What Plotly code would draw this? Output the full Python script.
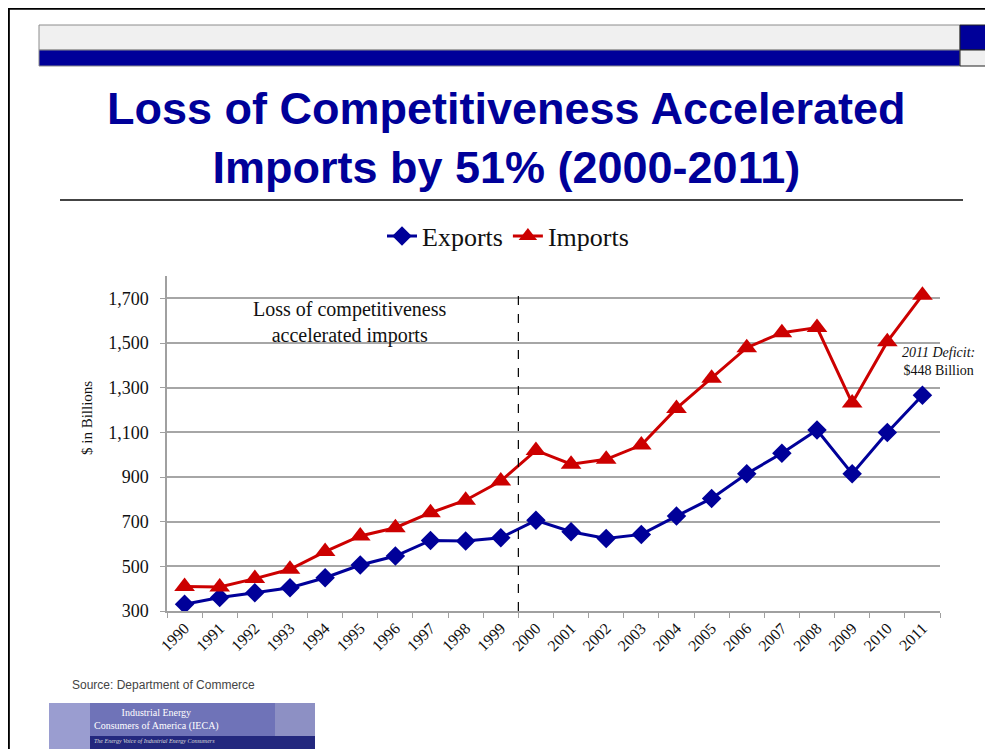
import plotly.graph_objects as go

# ---------------- data ----------------
years = ["1990", "1991", "1992", "1993", "1994", "1995", "1996", "1997", "1998", "1999",
         "2000", "2001", "2002", "2003", "2004", "2005", "2006", "2007", "2008", "2009",
         "2010", "2011"]
exports = [330, 360, 382, 404, 449, 506, 546, 616, 613, 628,
           706, 655, 625, 643, 725, 804, 915, 1006, 1110, 915, 1099, 1266]
imports = [410, 408, 445, 487, 566, 636, 673, 740, 796, 882,
           1019, 957, 979, 1043, 1207, 1342, 1479, 1546, 1569, 1231, 1506, 1714]
y_ticks = [300, 500, 700, 900, 1100, 1300, 1500, 1700]
y_tick_labels = ["300", "500", "700", "900", "1,100", "1,300", "1,500", "1,700"]

W, H = 993, 749
OFF = 8  # page offset of the figure (body margin)


def px(x):
    return (x - OFF) / W


def py(y):
    return 1 - (y - OFF) / H


BLUE = "#000099"
RED = "#cc0000"
SERIF = "Liberation Serif, Times New Roman, serif"
SANS = "Liberation Sans, Arial, sans-serif"

fig = go.Figure()
fig.add_trace(go.Scatter(
    x=years, y=exports, name="Exports", mode="lines+markers",
    line=dict(color=BLUE, width=3),
    marker=dict(symbol="diamond", size=15, color=BLUE)))
fig.add_trace(go.Scatter(
    x=years, y=imports, name="Imports", mode="lines+markers",
    line=dict(color=RED, width=3),
    marker=dict(symbol="triangle-up", size=18, color=RED)))

shapes = []
# slide border
shapes.append(dict(type="rect", xref="paper", yref="paper",
                   x0=0.6 / W, x1=1.05, y0=-0.05, y1=1 - 0.6 / H,
                   line=dict(color="black", width=2.5), fillcolor="rgba(0,0,0,0)", layer="below"))
# banner
shapes.append(dict(type="rect", xref="paper", yref="paper", x0=px(39), x1=px(960), y0=py(50), y1=py(25),
                   fillcolor="#f0f0f0", line=dict(color="#8c8c8c", width=1), layer="below"))
shapes.append(dict(type="rect", xref="paper", yref="paper", x0=px(39), x1=px(960), y0=py(66), y1=py(50),
                   fillcolor=BLUE, line=dict(color="#8c8c8c", width=1), layer="below"))
shapes.append(dict(type="rect", xref="paper", yref="paper", x0=px(960), x1=px(986), y0=py(50), y1=py(25),
                   fillcolor=BLUE, line=dict(color="#222222", width=1), layer="below"))
shapes.append(dict(type="rect", xref="paper", yref="paper", x0=px(960), x1=px(986), y0=py(66), y1=py(50),
                   fillcolor="#f0f0f0", line=dict(color="#222222", width=1), layer="below"))
# title separator
shapes.append(dict(type="line", xref="paper", yref="paper", x0=px(60), x1=px(963), y0=py(200), y1=py(200),
                   line=dict(color="#444444", width=2)))
# dashed separator between 1999 and 2000
shapes.append(dict(type="line", xref="x", yref="y", x0=9.5, x1=9.5, y0=300, y1=1740,
                   line=dict(color="black", width=1.2, dash="dash")))
# logo block
shapes.append(dict(type="rect", xref="paper", yref="paper", x0=px(49), x1=px(315), y0=py(760), y1=py(703),
                   fillcolor="#6f73b8", line=dict(width=0), layer="below"))
shapes.append(dict(type="rect", xref="paper", yref="paper", x0=px(49), x1=px(90), y0=py(760), y1=py(703),
                   fillcolor="#9a9dd0", line=dict(width=0), layer="below"))
shapes.append(dict(type="rect", xref="paper", yref="paper", x0=px(275), x1=px(315), y0=py(760), y1=py(703),
                   fillcolor="#8d90c4", line=dict(width=0), layer="below"))
shapes.append(dict(type="rect", xref="paper", yref="paper", x0=px(90), x1=px(315), y0=py(760), y1=py(736),
                   fillcolor="#23287e", line=dict(width=0), layer="below"))

annotations = []
annotations.append(dict(xref="paper", yref="paper", x=px(506), y=py(138), xanchor="center", yanchor="middle",
                        text="<b>Loss of Competitiveness Accelerated<br>Imports by 51% (2000-2011)</b>",
                        showarrow=False, font=dict(family=SANS, size=45, color=BLUE)))
annotations.append(dict(xref="paper", yref="paper", x=px(350), y=py(323), xanchor="center", yanchor="middle",
                        text="Loss of competitiveness<br>accelerated imports",
                        showarrow=False, font=dict(family=SERIF, size=20, color="#111111")))
annotations.append(dict(xref="paper", yref="paper", x=px(938), y=py(361), xanchor="center", yanchor="middle",
                        text="<i>2011 Deficit:</i><br>$448 Billion",
                        showarrow=False, font=dict(family=SERIF, size=14, color="#111111")))
annotations.append(dict(xref="paper", yref="paper", x=px(87), y=py(418), xanchor="center", yanchor="middle",
                        text="$ in Billions", textangle=-90,
                        showarrow=False, font=dict(family=SERIF, size=15, color="#111111")))
annotations.append(dict(xref="paper", yref="paper", x=px(70), y=py(685), xanchor="left", yanchor="middle",
                        text="Source: Department of Commerce",
                        showarrow=False, font=dict(family=SANS, size=12, color="#444444")))
annotations.append(dict(xref="paper", yref="paper", x=px(92), y=py(719), xanchor="left", yanchor="middle",
                        text="Industrial Energy<br>Consumers of America (IECA)",
                        showarrow=False, font=dict(family=SERIF, size=10, color="white")))
annotations.append(dict(xref="paper", yref="paper", x=px(92), y=py(741), xanchor="left", yanchor="middle",
                        text="<i>The Energy Voice of Industrial Energy Consumers</i>",
                        showarrow=False, font=dict(family=SERIF, size=6, color="#dddddd")))

fig.update_layout(
    width=W, height=H,
    margin=dict(l=0, r=0, t=0, b=0),
    paper_bgcolor="white", plot_bgcolor="white",
    showlegend=True,
    legend=dict(orientation="h", x=px(508), y=py(236), xanchor="center", yanchor="middle",
                font=dict(family=SERIF, size=26, color="#111111"), itemwidth=30,
                bgcolor="rgba(0,0,0,0)"),
    shapes=shapes,
    annotations=annotations,
    xaxis=dict(domain=[px(167), px(940)], type="category", automargin=False,
               range=[-0.5, len(years) - 0.5],
               showline=True, linecolor="#a0a0a0", linewidth=1.5,
               ticks="outside", tickson="boundaries", ticklen=5, tickcolor="#a0a0a0",
               tickangle=-45, showgrid=False,
               tickfont=dict(family=SERIF, size=16, color="#111111")),
    yaxis=dict(domain=[py(611), py(276)], range=[300, 1800], automargin=False,
               tickvals=y_ticks, ticktext=y_tick_labels,
               showline=True, linecolor="#a0a0a0", linewidth=1.5,
               ticks="outside", ticklen=5, tickcolor="#a0a0a0", ticklabelstandoff=8,
               showgrid=True, gridcolor="#a6a6a6", gridwidth=1.5, zeroline=False,
               tickfont=dict(family=SERIF, size=18, color="#111111")),
)

fig.write_html("out.html")
